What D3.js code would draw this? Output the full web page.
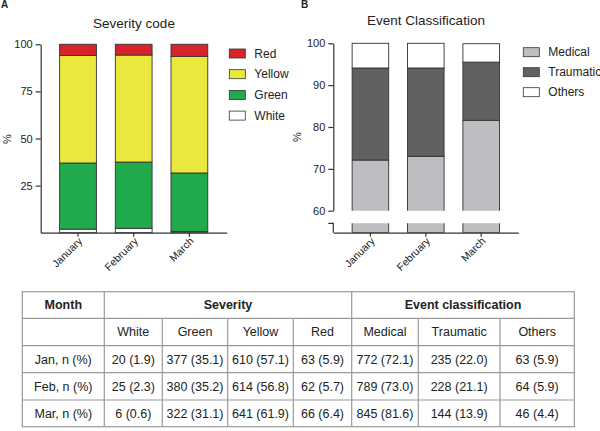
<!DOCTYPE html>
<html>
<head>
<meta charset="utf-8">
<script src="https://cdn.jsdelivr.net/npm/d3@7"></script>
<style>
  body { margin: 0; background: #fff; }
  svg text { font-family: "Liberation Sans", Arial, sans-serif; fill: #222; }
</style>
</head>
<body>
<div id="chart"></div>
<script>
// data
const months = ["January", "February", "March"];
const monthRows = ["Jan, n (%)", "Feb, n (%)", "Mar, n (%)"];

const severityKeys = ["White", "Green", "Yellow", "Red"];
const severityColors = ["#ffffff", "#21aa4b", "#ebe83d", "#d8232b"];
const whiteN = [20, 25, 6];
const greenN = [377, 380, 322];
const yellowN = [610, 614, 641];
const redN = [63, 62, 66];
const whitePct = [1.9, 2.3, 0.6];
const greenPct = [35.1, 35.2, 31.1];
const yellowPct = [57.1, 56.8, 61.9];
const redPct = [5.9, 5.7, 6.4];

const eventKeys = ["Medical", "Traumatic", "Others"];
const eventColors = ["#bebdc1", "#616161", "#ffffff"];
const medicalN = [772, 789, 845];
const traumaticN = [235, 228, 144];
const othersN = [63, 64, 46];
const medicalPct = [72.1, 73.0, 81.6];
const traumaticPct = [22.0, 21.1, 13.9];
const othersPct = [5.9, 5.9, 4.4];

const ticksA = [25, 50, 75, 100];
const ticksB = [60, 70, 80, 90, 100];

const W = 600, H = 431;
const svg = d3.select("#chart").append("svg")
  .attr("width", W).attr("height", H);

const stroke = "#333";

// build stacked rows
function stackRows(keys, cols) {
  return months.map((m, i) => {
    const row = { month: m };
    keys.forEach((k, j) => row[k] = cols[j][i]);
    return row;
  });
}
const sevRows = stackRows(severityKeys, [whitePct, greenPct, yellowPct, redPct]);
const evRows = stackRows(eventKeys, [medicalPct, traumaticPct, othersPct]);

function styleAxis(g, size) {
  g.selectAll("path, line").attr("stroke", stroke).attr("stroke-width", 1.2);
  g.selectAll("text").style("font-size", size + "px").attr("fill", "#222");
}

function xAxis(x, yBase) {
  const g = svg.append("g")
    .attr("transform", `translate(0,${yBase})`)
    .call(d3.axisBottom(x).tickSize(4).tickSizeOuter(0));
  styleAxis(g, 10.5);
  g.selectAll(".tick text")
    .attr("y", 0).attr("dy", null)
    .attr("text-anchor", "end")
    .attr("transform", "translate(5,9) rotate(-45)");
  return g;
}

function legend(keys, colors, x0, y0, gap) {
  const lg = svg.append("g").attr("transform", `translate(${x0},${y0})`);
  keys.forEach((k, i) => {
    lg.append("rect").attr("x", 0).attr("y", i * gap)
      .attr("width", 16).attr("height", 9)
      .attr("fill", colors[i]).attr("stroke", stroke).attr("stroke-width", 0.8);
    lg.append("text").attr("x", 25).attr("y", i * gap + 8.5)
      .style("font-size", "12px").text(k);
  });
}

// ---------- panel A ----------
const xA = d3.scaleBand().domain(months).range([40.7, 226.7])
  .paddingInner(0.34).paddingOuter(0.34);
const yA = d3.scaleLinear().domain([0, 100]).range([232.7, 44.3]);

const stA = d3.stack().keys(severityKeys)(sevRows);
svg.append("g").selectAll("g").data(stA).join("g")
  .attr("fill", (d, i) => severityColors[i])
  .selectAll("rect").data(d => d).join("rect")
    .attr("x", d => xA(d.data.month))
    .attr("width", xA.bandwidth())
    .attr("y", d => yA(d[1]))
    .attr("height", d => yA(d[0]) - yA(d[1]))
    .attr("stroke", stroke).attr("stroke-width", 0.9);

const gyA = svg.append("g").attr("transform", "translate(40.7,0)")
  .call(d3.axisLeft(yA).tickValues(ticksA).tickSize(5).tickSizeOuter(0));
styleAxis(gyA, 11);
xAxis(xA, 232.7);

svg.append("text").attr("x", 134).attr("y", 27.5)
  .attr("text-anchor", "middle").style("font-size", "13.5px").text("Severity code");
svg.append("text").attr("x", 1).attr("y", 8).style("font-size", "10px")
  .style("font-weight", "bold").text("A");
svg.append("text").attr("transform", "translate(11,139) rotate(-90)")
  .attr("text-anchor", "middle").style("font-size", "11px").text("%");
legend(severityKeys.slice().reverse(), severityColors.slice().reverse(), 229.3, 49, 20.7);

// ---------- panel B ----------
const xB = d3.scaleBand().domain(months).range([333.3, 518.3])
  .paddingInner(0.34).paddingOuter(0.34);
const yB = d3.scaleLinear().domain([60, 100]).range([210.7, 43.3]);
const lowTop = 223.3, lowBase = 232.7;

svg.append("clipPath").attr("id", "clipUp")
  .append("rect").attr("x", 330).attr("y", 30).attr("width", 200).attr("height", yB(60) - 30);
svg.append("clipPath").attr("id", "clipLow")
  .append("rect").attr("x", 330).attr("y", lowTop).attr("width", 200).attr("height", lowBase - lowTop);

const stB = d3.stack().keys(eventKeys)(evRows);
svg.append("g").attr("clip-path", "url(#clipUp)")
  .selectAll("g").data(stB).join("g")
  .attr("fill", (d, i) => eventColors[i])
  .selectAll("rect").data(d => d).join("rect")
    .attr("x", d => xB(d.data.month))
    .attr("width", xB.bandwidth())
    .attr("y", d => yB(d[1]))
    .attr("height", d => yB(Math.max(d[0], 59)) - yB(d[1]))
    .attr("stroke", stroke).attr("stroke-width", 0.9);

// lower piece of the broken axis
svg.append("g").attr("clip-path", "url(#clipLow)")
  .selectAll("rect").data(evRows).join("rect")
    .attr("x", d => xB(d.month))
    .attr("width", xB.bandwidth())
    .attr("y", lowTop - 3)
    .attr("height", lowBase - lowTop + 3)
    .attr("fill", eventColors[0])
    .attr("stroke", stroke).attr("stroke-width", 0.9);

const gyB = svg.append("g").attr("transform", "translate(333.3,0)")
  .call(d3.axisLeft(yB).tickValues(ticksB).tickSize(5).tickSizeOuter(0));
styleAxis(gyB, 11);
svg.append("path")
  .attr("d", `M328.3,${lowTop}H333.3V${lowBase}`)
  .attr("fill", "none").attr("stroke", stroke).attr("stroke-width", 1.2);
xAxis(xB, lowBase);

svg.append("text").attr("x", 426).attr("y", 24.5)
  .attr("text-anchor", "middle").style("font-size", "13.5px").text("Event Classification");
svg.append("text").attr("x", 301).attr("y", 8).style("font-size", "10px")
  .style("font-weight", "bold").text("B");
svg.append("text").attr("transform", "translate(301,137) rotate(-90)")
  .attr("text-anchor", "middle").style("font-size", "11px").text("%");
legend(eventKeys, eventColors, 523.3, 47.7, 20);

// ---------- table ----------
const colX = [22.3, 104.3, 162.3, 227.7, 293.3, 351.7, 418.3, 500, 574.3];
const rowY = [291.7, 318.3, 345.7, 372.7, 400, 426.7];
const tg = svg.append("g");
const grid = "#9a9a9a";

tg.append("rect").attr("x", colX[0]).attr("y", rowY[0])
  .attr("width", colX[8] - colX[0]).attr("height", rowY[5] - rowY[0])
  .attr("fill", "none").attr("stroke", grid).attr("stroke-width", 1.2);
rowY.slice(1, 5).forEach(y => {
  tg.append("line").attr("x1", colX[0]).attr("x2", colX[8])
    .attr("y1", y).attr("y2", y).attr("stroke", grid).attr("stroke-width", 1.2);
});
colX.slice(1, 8).forEach((x, i) => {
  const full = (x === colX[1] || x === colX[5]);
  tg.append("line").attr("x1", x).attr("x2", x)
    .attr("y1", full ? rowY[0] : rowY[1]).attr("y2", rowY[5])
    .attr("stroke", grid).attr("stroke-width", 1.2);
});

function cell(c0, c1, r, txt, opts) {
  tg.append("text")
    .attr("x", (colX[c0] + colX[c1]) / 2)
    .attr("y", (rowY[r] + rowY[r + 1]) / 2 + 4.3)
    .attr("text-anchor", "middle")
    .style("font-size", opts.size + "px")
    .style("font-weight", opts.bold ? "bold" : "normal")
    .style("font-family", opts.family || null)
    .attr("fill", "#333")
    .text(txt);
}
cell(0, 1, 0, "Month", { size: 12.5, bold: true });
cell(1, 5, 0, "Severity", { size: 12.5, bold: true });
cell(5, 8, 0, "Event classification", { size: 12.5, bold: true });
severityKeys.concat(eventKeys).forEach((k, i) => cell(i + 1, i + 2, 1, k, { size: 12.5 }));

const counts = [whiteN, greenN, yellowN, redN, medicalN, traumaticN, othersN];
const pcts = [whitePct, greenPct, yellowPct, redPct, medicalPct, traumaticPct, othersPct];
monthRows.forEach((lab, r) => {
  cell(0, 1, r + 2, lab, { size: 12.5 });
  counts.forEach((col, j) => {
    cell(j + 1, j + 2, r + 2, `${col[r]} (${pcts[j][r].toFixed(1)})`,
      { size: 12.5, family: "'Liberation Sans Narrow', 'Liberation Sans', sans-serif" });
  });
});
</script>
</body>
</html>
